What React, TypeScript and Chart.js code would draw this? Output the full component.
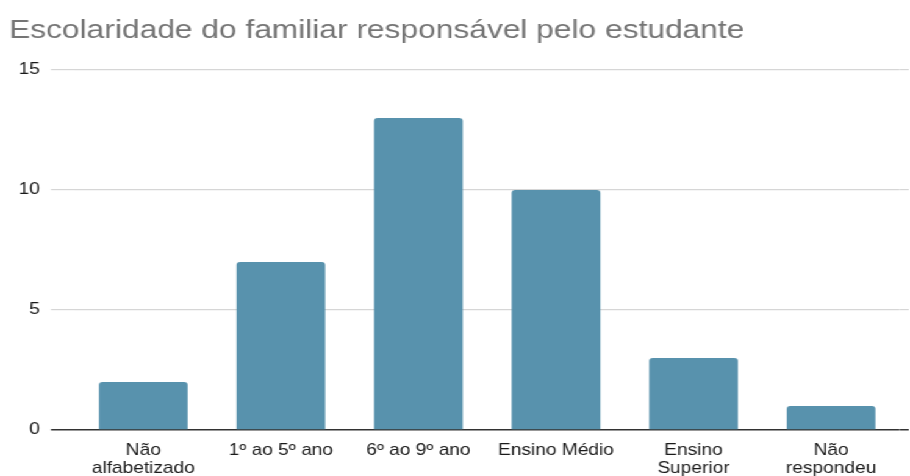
import React, { useEffect, useRef } from "react";
import { Chart, registerables } from "chart.js";

Chart.register(...registerables);

const categories: (string | string[])[] = [
  ["Não", "alfabetizado"],
  "1º ao 5º ano",
  "6º ao 9º ano",
  "Ensino Médio",
  ["Ensino", "Superior"],
  ["Não", "respondeu"],
];
const values: number[] = [2, 7, 13, 10, 3, 1];
const yTicks: number[] = [0, 5, 10, 15];
const titleText = "Escolaridade do familiar responsável pelo estudante";

const STRETCH = 910 / 746;
const FONT = "'Liberation Sans', Arial, sans-serif";

export default function App() {
  const ref = useRef<HTMLCanvasElement | null>(null);

  useEffect(() => {
    if (!ref.current) return;
    const gridColor = (ctx: any) => (ctx.tick && ctx.tick.value === 0 ? "#333333" : "#d6d6d6");
    const gridWidth = (ctx: any) => (ctx.tick && ctx.tick.value === 0 ? 1.5 : 1.2);
    const chart = new Chart(ref.current, {
      type: "bar",
      data: {
        labels: categories,
        datasets: [
          {
            data: values,
            backgroundColor: "#5892ad",
            borderRadius: { topLeft: 3, topRight: 3, bottomLeft: 0, bottomRight: 0 },
            borderSkipped: "bottom",
            barPercentage: 0.645,
            categoryPercentage: 1,
          },
        ],
      },
      options: {
        responsive: false,
        animation: false,
        layout: { padding: { left: 7.5, right: 1, top: 0, bottom: 0 } },
        plugins: {
          legend: { display: false },
          tooltip: { enabled: false },
          title: {
            display: true,
            text: titleText,
            align: "start",
            color: "#757575",
            font: { family: FONT, size: 26, weight: "normal", lineHeight: 1.2 },
            padding: { top: 15, bottom: 23.8 },
          },
        },
        scales: {
          x: {
            afterFit: (scale: any) => {
              scale.height = 46;
            },
            grid: { drawOnChartArea: false, drawTicks: false },
            border: { display: false },
            ticks: {
              color: "#1a1a1a",
              padding: 12,
              maxRotation: 0,
              autoSkip: false,
              font: { family: FONT, size: 15.7, lineHeight: 1.12 },
            },
          },
          y: {
            min: 0,
            max: 15,
            afterFit: (scale: any) => {
              scale.width = 53.6;
            },
            afterBuildTicks: (scale: any) => {
              scale.ticks = yTicks.map((v) => ({ value: v }));
            },
            grid: { color: gridColor, lineWidth: gridWidth, tickLength: 19.3, drawTicks: true },
            border: { display: false },
            ticks: {
              color: "#1a1a1a",
              padding: 9,
              font: { family: FONT, size: 15.7 },
            },
          },
          y2: {
            type: "linear",
            position: "right",
            min: 0,
            max: 15,
            afterBuildTicks: (scale: any) => {
              scale.ticks = yTicks.map((v) => ({ value: v }));
            },
            grid: { drawOnChartArea: false, color: gridColor, lineWidth: gridWidth, tickLength: 7.3 },
            border: { display: false },
            ticks: { display: false },
          },
        },
      },
    });
    return () => chart.destroy();
  }, []);

  return (
    <div
      style={{
        position: "absolute",
        left: 0,
        top: 0,
        width: 746,
        height: 476,
        transform: `scaleX(${STRETCH})`,
        transformOrigin: "0 0",
        background: "#ffffff",
      }}
    >
      <canvas ref={ref} width={746} height={476} />
    </div>
  );
}
